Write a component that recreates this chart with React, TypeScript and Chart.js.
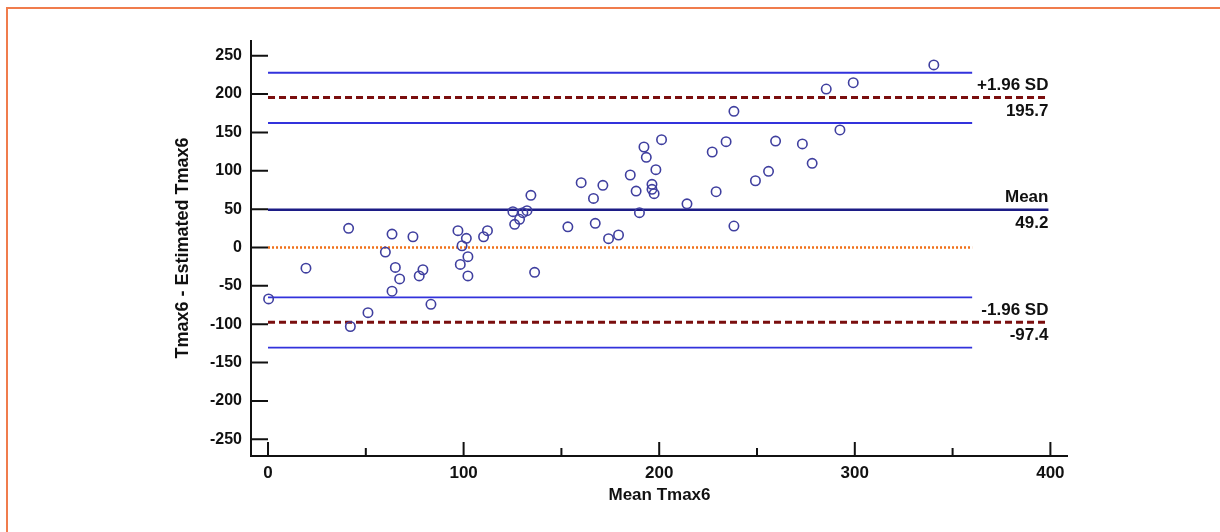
import React, { useEffect, useRef } from "react";
import { Chart, registerables } from "chart.js";

Chart.register(...registerables);

// ---- Data ----
const meanTmax6 = [
  0.3, 19.4, 41.2, 42.1, 51.1, 60.0, 63.4, 63.4, 65.1, 67.3,
  74.1, 77.3, 79.2, 83.3, 97.1, 99.2, 98.3, 101.4, 102.2, 102.2,
  110.2, 112.2, 125.2, 126.1, 128.6, 130.3, 132.4, 134.4, 136.3, 153.3,
  160.1, 166.4, 167.3, 171.2, 174.1, 179.2, 185.2, 188.2, 189.9, 192.2,
  193.4, 196.3, 196.3, 197.4, 198.3, 201.2, 214.2, 227.1, 229.1, 234.2,
  238.2, 238.2, 249.2, 255.9, 259.5, 273.2, 278.2, 285.4, 292.4, 299.2,
  340.4,
];
const diffTmax6 = [
  -67, -27, 25, -103, -85, -6, 17.5, -57, -26, -41,
  14, -37, -29, -74, 22, 2.3, -22, 12, -12, -37,
  14, 22, 46.7, 30.2, 36.8, 45.4, 48, 68, -32.4, 27,
  84.5, 64, 31.5, 81, 11.5, 16.3, 94.5, 73.6, 45.4, 131,
  117.5, 82.4, 75.9, 70.2, 101.4, 140.5, 57, 124.5, 72.7, 138,
  177.5, 28, 87, 99.3, 138.8, 135, 109.7, 206.6, 153.2, 214.8,
  238,
];

const meanDiff = 49.2;
const upperLoA = 195.7;
const lowerLoA = -97.4;
const upperLoACI = [162.3, 227.8];
const lowerLoACI = [-130.6, -64.9];
const zeroLine = 0;

const shortLineX = [0, 360];
const longLineX = [0, 399];

const refLabels = ["+1.96 SD", "Mean", "-1.96 SD"];
const refValues = [upperLoA, meanDiff, lowerLoA];
const refValueLabels = ["195.7", "49.2", "-97.4"];

const xTickValues = [0, 100, 200, 300, 400];
const xTickLabels = ["0", "100", "200", "300", "400"];
const xMinorTickValues = [50, 150, 250, 350];
const yTickValues = [-250, -200, -150, -100, -50, 0, 50, 100, 150, 200, 250];
const yTickLabels = ["-250", "-200", "-150", "-100", "-50", "0", "50", "100", "150", "200", "250"];

const xTitle = "Mean Tmax6";
const yTitle = "Tmax6 - Estimated Tmax6";

const FONT = "'Liberation Sans', Arial, Helvetica, sans-serif";

function hLine(xs: number[], yv: number) {
  return xs.map((xv) => ({ x: xv, y: yv }));
}

const axesPlugin = {
  id: "customAxes",
  beforeDatasetsDraw(chart: any) {
    const { ctx, chartArea, scales } = chart;
    const x = scales.x;
    const y = scales.y;
    ctx.save();
    ctx.strokeStyle = "#111";
    ctx.lineWidth = 2;
    ctx.lineCap = "butt";
    ctx.beginPath();
    ctx.moveTo(chartArea.left, chartArea.top);
    ctx.lineTo(chartArea.left, chartArea.bottom);
    ctx.lineTo(chartArea.right, chartArea.bottom);
    ctx.stroke();
    ctx.beginPath();
    yTickValues.forEach((v) => {
      const py = y.getPixelForValue(v);
      ctx.moveTo(chartArea.left, py);
      ctx.lineTo(chartArea.left + 17, py);
    });
    xTickValues.forEach((v) => {
      const px = x.getPixelForValue(v);
      ctx.moveTo(px, chartArea.bottom);
      ctx.lineTo(px, chartArea.bottom - 14);
    });
    xMinorTickValues.forEach((v) => {
      const px = x.getPixelForValue(v);
      ctx.moveTo(px, chartArea.bottom);
      ctx.lineTo(px, chartArea.bottom - 8);
    });
    ctx.stroke();
    ctx.restore();
  },
  afterDatasetsDraw(chart: any) {
    const { ctx, scales } = chart;
    const x = scales.x;
    const y = scales.y;
    ctx.save();
    ctx.fillStyle = "#111";
    ctx.font = `bold 17px ${FONT}`;
    ctx.textAlign = "right";
    ctx.textBaseline = "middle";
    const px = x.getPixelForValue(longLineX[1]);
    refValues.forEach((v, i) => {
      const py = y.getPixelForValue(v);
      ctx.fillText(refLabels[i], px, py - 12);
      ctx.fillText(refValueLabels[i], px, py + 13.5);
    });
    ctx.restore();
  },
};

export default function App() {
  const canvasRef = useRef<HTMLCanvasElement | null>(null);

  useEffect(() => {
    if (!canvasRef.current) return;
    const lineBase = {
      type: "line" as const,
      showLine: true,
      pointRadius: 0,
      pointHoverRadius: 0,
      fill: false,
      tension: 0,
    };
    const chart = new Chart(canvasRef.current, {
      type: "scatter",
      data: {
        datasets: [
          {
            label: "Differences",
            data: meanTmax6.map((m, i) => ({ x: m, y: diffTmax6[i] })),
            pointStyle: "circle",
            pointRadius: 4.7,
            pointBorderWidth: 1.6,
            pointBackgroundColor: "rgba(0,0,0,0)",
            pointBorderColor: "#3f3f9f",
            showLine: false,
          },
          {
            ...lineBase,
            label: "Mean",
            data: hLine(longLineX, meanDiff),
            borderColor: "#1c1c86",
            borderWidth: 2.5,
          },
          {
            ...lineBase,
            label: "+1.96 SD",
            data: hLine(longLineX, upperLoA),
            borderColor: "#7a0e0e",
            borderWidth: 3,
            borderDash: [7, 4],
          },
          {
            ...lineBase,
            label: "-1.96 SD",
            data: hLine(longLineX, lowerLoA),
            borderColor: "#7a0e0e",
            borderWidth: 3,
            borderDash: [7, 4],
          },
          {
            ...lineBase,
            label: "Upper CI low",
            data: hLine(shortLineX, upperLoACI[0]),
            borderColor: "#3232dc",
            borderWidth: 1.8,
          },
          {
            ...lineBase,
            label: "Upper CI high",
            data: hLine(shortLineX, upperLoACI[1]),
            borderColor: "#3232dc",
            borderWidth: 1.8,
          },
          {
            ...lineBase,
            label: "Lower CI low",
            data: hLine(shortLineX, lowerLoACI[0]),
            borderColor: "#3232dc",
            borderWidth: 1.8,
          },
          {
            ...lineBase,
            label: "Lower CI high",
            data: hLine(shortLineX, lowerLoACI[1]),
            borderColor: "#3232dc",
            borderWidth: 1.8,
          },
          {
            ...lineBase,
            label: "Zero",
            data: hLine(shortLineX, zeroLine),
            borderColor: "#f07018",
            borderWidth: 2.5,
            borderDash: [2, 2],
          },
        ] as any,
      },
      options: {
        animation: false,
        responsive: false,
        events: [],
        layout: { padding: { left: 172, top: 40, right: 152, bottom: 26 } },
        plugins: {
          legend: { display: false },
          tooltip: { enabled: false },
        },
        scales: {
          x: {
            type: "linear",
            min: -8.7,
            max: 409,
            grid: { display: false, drawTicks: false },
            border: { display: false },
            afterBuildTicks: (scale: any) => {
              scale.ticks = xTickValues.map((v) => ({ value: v }));
            },
            afterFit: (scale: any) => {
              scale.height = 50;
            },
            ticks: {
              padding: 7,
              color: "#111",
              font: { family: FONT, size: 17, weight: "bold" },
              maxRotation: 0,
              callback: (value: any) => {
                const i = xTickValues.indexOf(Number(value));
                return i >= 0 ? xTickLabels[i] : "";
              },
            },
            title: {
              display: true,
              text: xTitle,
              color: "#111",
              font: { family: FONT, size: 17, weight: "bold" },
              padding: 0,
            },
          },
          y: {
            type: "linear",
            min: -271.8,
            max: 270.5,
            grid: { display: false, drawTicks: false },
            border: { display: false },
            afterBuildTicks: (scale: any) => {
              scale.ticks = yTickValues.map((v) => ({ value: v }));
            },
            afterFit: (scale: any) => {
              scale.width = 79;
            },
            ticks: {
              padding: 9,
              color: "#111",
              font: { family: FONT, size: 16, weight: "bold" },
              callback: (value: any) => {
                const i = yTickValues.indexOf(Number(value));
                return i >= 0 ? yTickLabels[i] : "";
              },
            },
            title: {
              display: true,
              text: yTitle,
              color: "#111",
              font: { family: FONT, size: 18, weight: "bold" },
              padding: 0,
            },
          },
        },
      },
      plugins: [axesPlugin],
    });
    return () => chart.destroy();
  }, []);

  return (
    <div style={{ position: "fixed", left: 0, top: 0, width: 1220, height: 532, background: "#fff", overflow: "hidden" }}>
      <div
        style={{
          position: "absolute",
          left: 6,
          top: 7,
          width: 1400,
          height: 700,
          borderTop: "2px solid #f07c4c",
          borderLeft: "2px solid #f07c4c",
        }}
      />
      <canvas ref={canvasRef} width={1220} height={532} style={{ position: "absolute", left: 0, top: 0, width: 1220, height: 532 }} />
    </div>
  );
}
